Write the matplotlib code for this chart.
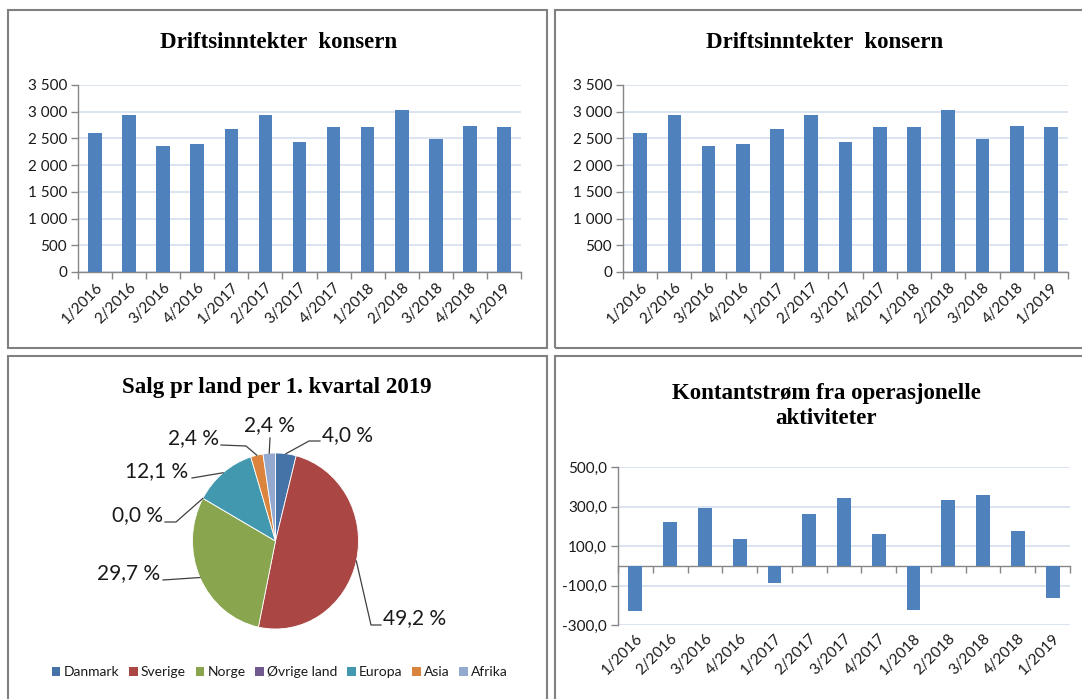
import numpy as np
import matplotlib.pyplot as plt
from matplotlib.patches import Rectangle, Patch
from matplotlib.lines import Line2D
from matplotlib.ticker import FuncFormatter

# data
kvartaler = ["1/2016", "2/2016", "3/2016", "4/2016", "1/2017", "2/2017", "3/2017",
             "4/2017", "1/2018", "2/2018", "3/2018", "4/2018", "1/2019"]
driftsinntekter = [2600, 2935, 2360, 2400, 2680, 2935, 2425, 2705, 2720, 3040, 2490, 2740, 2705]
kontantstrom = [-230, 222, 293, 134, -88, 261, 342, 159, -224, 334, 359, 178, -163]

land = ["Danmark", "Sverige", "Norge", "Øvrige land", "Europa", "Asia", "Afrika"]
andel = [4.0, 49.2, 29.7, 0.0, 12.1, 2.4, 2.4]
land_farger = ["#4572A7", "#AA4643", "#89A54E", "#71588F", "#4198AF", "#DB843D", "#93A9CF"]

W, H, DPI = 1082, 699, 100
BAR = "#4F81BD"
GRID = "#D5DFEF"
AXIS = "#868686"
TXT = "#1a1a1a"
TICKFONT = "Lato"
TITLEFONT = "Liberation Serif"

plt.rcParams["font.family"] = [TICKFONT, "DejaVu Sans"]

fig = plt.figure(figsize=(W / DPI, H / DPI), dpi=DPI)


def px_axes(x0, y0, x1, y1):
    # box given in pixels, origin top-left
    return fig.add_axes([x0 / W, 1 - y1 / H, (x1 - x0) / W, (y1 - y0) / H])


def px_title(x, y, text, **kw):
    fig.text(x / W, 1 - y / H, text, ha="center", va="center", color="black",
             fontfamily=TITLEFONT, fontweight="bold", fontsize=16.5, **kw)


def style_bars(ax, ymin, ymax, step, fmt, label_pad):
    n = len(kvartaler)
    ax.set_xlim(-0.5, n - 0.5)
    ax.set_ylim(ymin, ymax)
    ax.set_yticks(np.arange(ymin, ymax + 1, step))
    ax.yaxis.set_major_formatter(FuncFormatter(fmt))
    ax.grid(axis="y", color=GRID, lw=1.2, zorder=0)
    for s in ["top", "right"]:
        ax.spines[s].set_visible(False)
    for s in ["left", "bottom"]:
        ax.spines[s].set_color(AXIS)
        ax.spines[s].set_linewidth(1.0)
    ax.set_xticks(np.arange(n))
    ax.set_xticklabels(kvartaler, rotation=45, ha="right", rotation_mode="anchor")
    ax.set_xticks(np.arange(n + 1) - 0.5, minor=True)
    ax.tick_params(axis="x", which="major", length=0, pad=label_pad,
                   labelsize=11, labelcolor=TXT)
    ax.tick_params(axis="x", which="minor", length=5, width=1, color=AXIS)
    ax.tick_params(axis="y", length=5, width=1, color=AXIS, pad=3,
                   labelsize=11, labelcolor=TXT)


def thousands(v, pos):
    return f"{int(v):,}".replace(",", " ")


def one_decimal(v, pos):
    return f"{v:.1f}".replace(".", ",")


# ---- top row: Driftsinntekter konsern (twice) ----
for box, tx in [((78, 85, 521, 272), 279), ((623, 85, 1068, 272), 825)]:
    ax = px_axes(*box)
    ax.bar(np.arange(len(kvartaler)), driftsinntekter, width=0.4, color=BAR, zorder=3)
    style_bars(ax, 0, 3500, 500, thousands, 6)
    px_title(tx, 43, "Driftsinntekter  konsern")

# ---- bottom right: Kontantstrøm ----
ax = px_axes(618, 467, 1070, 625)
ax.spines["bottom"].set_position(("data", 0))
ax.bar(np.arange(len(kvartaler)), kontantstrom, width=0.4, color=BAR, zorder=3)
ymin, ymax = -300, 500
ax_h_px = 625 - 467
zero_to_bottom = ax_h_px * (0 - ymin) / (ymax - ymin)
style_bars(ax, ymin, ymax, 200, one_decimal, (zero_to_bottom + 6) * 72 / DPI)
px_title(826, 406, "Kontantstrøm fra operasjonelle\naktiviteter", linespacing=1.25)

# ---- bottom left: pie ----
cx, cy, rx, ry = 275.5, 541, 83, 88
pax = px_axes(cx - rx, cy - ry, cx + rx, cy + ry)
wedges, _ = pax.pie(andel, colors=land_farger, startangle=90, counterclock=False,
                    radius=1, wedgeprops=dict(linewidth=0.6, edgecolor="white"))
pax.set_xlim(-1, 1)
pax.set_ylim(-1, 1)
pax.set_aspect("auto")
pax.axis("off")
px_title(277, 387, "Salg pr land per 1. kvartal 2019")

# leader line layout in pixels (top-left origin): elbow, end, text anchor, alignment
label_layout = [
    ((309, 441), (320, 441), (322, 435), "left"),
    ((371, 625), (381, 625), (383, 618), "left"),
    (None, (163, 580), (160, 573), "right"),
    ((176, 522), (165, 522), (163, 515), "right"),
    (None, (192, 478), (188, 471), "right"),
    ((246, 446), (221, 445), (219, 438), "right"),
    (None, (270, 438), (269, 425), "center"),
]
to_fig = fig.transFigure.inverted()
for w, v, (elbow, end, txt, ha) in zip(wedges, andel, label_layout):
    mid = np.deg2rad((w.theta1 + w.theta2) / 2)
    ex, ey = pax.transData.transform((np.cos(mid), np.sin(mid)))
    pts = [(ex, ey)]
    for p in (elbow, end):
        if p is not None:
            pts.append((p[0], H - p[1]))
    pts = to_fig.transform(pts)
    fig.add_artist(Line2D(pts[:, 0], pts[:, 1], transform=fig.transFigure,
                          color="#404040", lw=0.9))
    fig.text(txt[0] / W, 1 - txt[1] / H, f"{v:.1f} %".replace(".", ","),
             ha=ha, va="center", fontsize=15, color=TXT)

handles = [Patch(facecolor=c, edgecolor="none", label=l) for c, l in zip(land_farger, land)]
fig.legend(handles=handles, loc="center", bbox_to_anchor=(280 / W, 1 - 672 / H),
           ncol=7, frameon=False, fontsize=10, handlelength=0.6, handleheight=0.6,
           handletextpad=0.25, columnspacing=0.7, labelcolor=TXT)

# ---- panel frames ----
for x0, y0, x1, y1 in [(8, 10, 547, 348), (555, 10, 1095, 348),
                       (8, 356, 547, 712), (555, 356, 1095, 712)]:
    fig.add_artist(Rectangle((x0 / W, 1 - y1 / H), (x1 - x0) / W, (y1 - y0) / H,
                             transform=fig.transFigure, fill=False,
                             edgecolor="#808080", lw=1.5))

fig.savefig("out.png", dpi=DPI)
